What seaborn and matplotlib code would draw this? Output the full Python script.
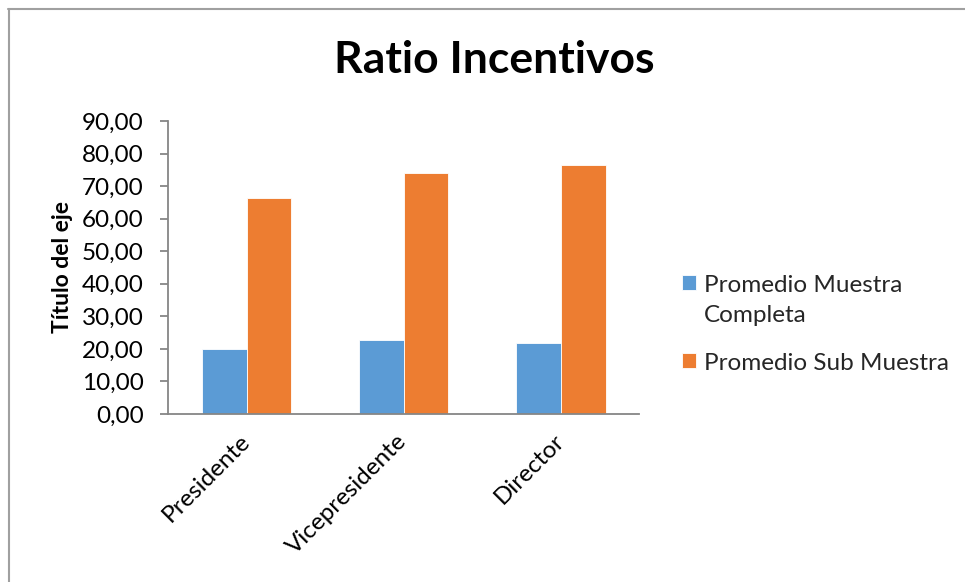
import matplotlib
matplotlib.use("Agg")
import matplotlib.pyplot as plt
import seaborn as sns
import pandas as pd
from matplotlib.ticker import FuncFormatter, MultipleLocator
from matplotlib.lines import Line2D

# Chart data
categories = ["Presidente", "Vicepresidente", "Director"]
series_names = ["Promedio Muestra\nCompleta", "Promedio Sub Muestra"]
muestra_completa = [19.9, 22.7, 21.8]
sub_muestra = [66.3, 74.1, 76.5]
colors = ["#5B9BD5", "#ED7D31"]

df = pd.DataFrame({
    "categoria": categories * 2,
    "serie": [series_names[0]] * 3 + [series_names[1]] * 3,
    "valor": muestra_completa + sub_muestra,
})

sns.set_theme(style="white")
plt.rcParams["font.family"] = ["Lato", "DejaVu Sans"]

fig = plt.figure(figsize=(9.65, 5.82), dpi=100)
ax = fig.add_axes([0.1741, 0.2887, 0.4881, 0.5034])

sns.barplot(data=df, x="categoria", y="valor", hue="serie",
            palette=colors, width=0.573, gap=0, ax=ax,
            edgecolor="white", linewidth=0.6, saturation=1)

ax.set_xlim(-0.5, 2.5)
ax.set_ylim(0, 90)
ax.yaxis.set_major_locator(MultipleLocator(10))
ax.yaxis.set_major_formatter(FuncFormatter(lambda v, p: f"{v:.2f}".replace(".", ",")))

for side in ["top", "right"]:
    ax.spines[side].set_visible(False)
for side in ["left", "bottom"]:
    ax.spines[side].set_color("#868686")
    ax.spines[side].set_linewidth(1.3)

ax.tick_params(axis="y", which="major", length=6, width=1.3, color="#868686",
               direction="out", labelsize=17.5, pad=11.5, labelcolor="black", left=True)
ax.tick_params(axis="x", length=0, labelsize=17.5, pad=17, labelcolor="black")
for lbl in ax.get_xticklabels():
    lbl.set_rotation(45)
    lbl.set_ha("right")
    lbl.set_va("center")
    lbl.set_rotation_mode("anchor")

ax.set_xlabel("")
ax.set_ylabel("Título del eje", fontsize=16.5, fontweight="bold", labelpad=6, color="black")

fig.text(0.512, 0.897, "Ratio Incentivos", ha="center", va="center",
         fontsize=32, fontweight="bold", color="black")

handles, labels = ax.get_legend_handles_labels()
ax.get_legend().remove()
leg = fig.legend(handles, labels, loc="upper left", bbox_to_anchor=(0.697, 0.545),
                 frameon=False, fontsize=17.5, handlelength=0.58, handleheight=0.58,
                 handletextpad=0.3, labelspacing=1.1, borderaxespad=0)
for t in leg.get_texts():
    t.set_linespacing(1.55)
# square marker sits beside the first line of each entry
for col in leg._legend_handle_box.get_children():
    for item in col.get_children():
        item.align = "top"

# outer chart frame (top and left edges)
fig.add_artist(Line2D([8 / 965, 1.0], [1 - 9 / 582, 1 - 9 / 582],
                      transform=fig.transFigure, color="#A0A0A0", linewidth=1.5))
fig.add_artist(Line2D([8.5 / 965, 8.5 / 965], [0, 1 - 9 / 582],
                      transform=fig.transFigure, color="#A0A0A0", linewidth=1.5))

fig.savefig("out.png", dpi=100, facecolor="white")
